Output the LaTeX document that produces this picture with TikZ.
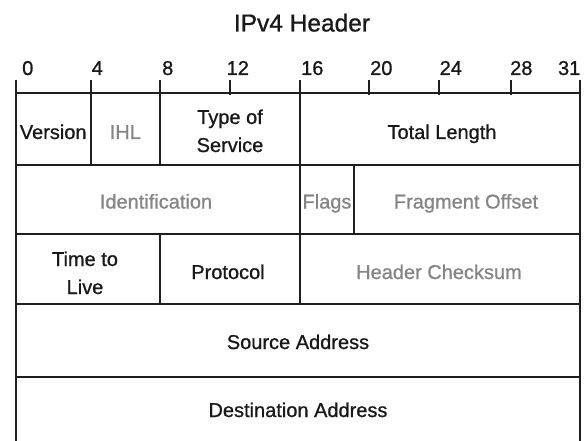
\documentclass[tikz,border=0pt]{standalone}
\usepackage{fontspec}
\setmainfont{Liberation Sans}[FakeBold=0.9]
\begin{document}
\begin{tikzpicture}[x=1pt,y=-1pt,
  gridline/.style={line width=2pt, draw=black!88, line cap=rect},
  tickline/.style={line width=2pt, draw=black!88},
  lbl/.style={font=\fontsize{20}{28}\selectfont, inner sep=0pt, align=center, anchor=base, text=black!90},
  dim/.style={lbl, text=black!48},
  bitnum/.style={font=\fontsize{20}{24}\selectfont, inner sep=0pt, anchor=base west, text=black!90},
  ttl/.style={font=\fontsize{24.5}{28}\selectfont, inner sep=0pt, anchor=base, text=black!90}]
\useasboundingbox (0,0) rectangle (584,441);

% title
\node[ttl] (title) at (302,31.5) {IPv4 Header};

% bit numbers
\node[bitnum] (b0) at (22,75) {0};
\node[bitnum] (b4) at (91.5,75) {4};
\node[bitnum] (b8) at (162,75) {8};
\node[bitnum] (b12) at (226.5,75) {12};
\node[bitnum] (b16) at (301,75) {16};
\node[bitnum] (b20) at (370,75) {20};
\node[bitnum] (b24) at (439.5,75) {24};
\node[bitnum] (b28) at (510,75) {28};
\node[bitnum, anchor=base east] (b31) at (580.5,75) {31};

% ruler and outer frame
\draw[gridline] (15.7,93.3) -- (580,93.3);
\draw[gridline, line cap=butt] (15.7,80) -- (15.7,441);
\draw[gridline, line cap=butt] (580,80) -- (580,441);
\foreach \x in {229.5,369,438.7,510.8}
  \draw[tickline] (\x,80) -- (\x,95);
\draw[tickline] (90.7,80) -- (90.7,165);
\draw[tickline] (160,80) -- (160,165);
\draw[tickline] (300,80) -- (300,165);

% row separators
\draw[gridline] (15.7,165) -- (580,165);
\draw[gridline] (15.7,234) -- (580,234);
\draw[gridline] (15.7,303.5) -- (580,303.5);
\draw[gridline] (15.7,377) -- (580,377);

% inner vertical separators
\draw[tickline] (300,165) -- (300,234);
\draw[tickline] (354,165) -- (354,234);
\draw[tickline] (160,234) -- (160,303.5);
\draw[tickline] (300,234) -- (300,303.5);

% row 1
\node[lbl] (version) at (53.2,139) {Version};
\node[dim] (ihl) at (125.3,139) {IHL};
\node[lbl] (tos) at (230,152) {Type of\\Service};
\node[lbl] (totlen) at (442,139) {Total Length};
% row 2
\node[dim] (ident) at (156,208.5) {Identification};
\node[dim] (flags) at (327,208.5) {Flags};
\node[dim] (fragoff) at (466,208.5) {Fragment Offset};
% row 3
\node[lbl] (ttlive) at (85,294) {Time to\\Live};
\node[lbl] (proto) at (228,279) {Protocol};
\node[dim] (checksum) at (439,279) {Header Checksum};
% rows 4 and 5
\node[lbl] (src) at (298,349) {Source Address};
\node[lbl] (dst) at (298,417) {Destination Address};
\end{tikzpicture}
\end{document}
